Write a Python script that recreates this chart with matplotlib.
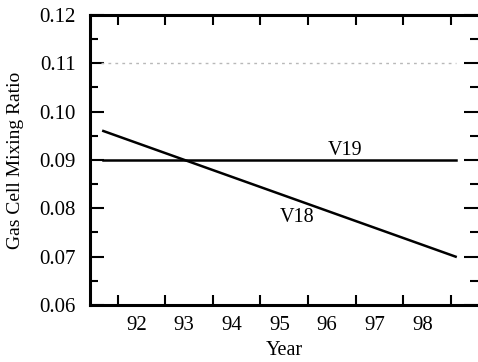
import numpy as np
import matplotlib
matplotlib.use('Agg')
import matplotlib.pyplot as plt
from matplotlib.ticker import MultipleLocator, FixedLocator, NullFormatter

plt.rcParams['font.family'] = ['Liberation Serif', 'DejaVu Serif']

# gas cell mixing ratio vs. year
years = [91.7, 99.1]
v18 = [0.096, 0.070]
v19 = [0.090, 0.090]
nominal = [0.110, 0.110]
year_labels = ['92', '93', '94', '95', '96', '97', '98']
year_ticks = [92, 93, 94, 95, 96, 97, 98, 99]

fig = plt.figure(figsize=(4.78, 3.62), dpi=100)
ax = fig.add_axes([90 / 478, 1 - 305 / 362, 388 / 478, 290 / 362])

ax.plot([91.65, 99.1], nominal, color='#b8b8b8', lw=1.0, ls=(0, (2, 3)))
ax.plot(years, v19, color='black', lw=1.8)
ax.plot(years, v18, color='black', lw=1.8)

ax.text(96.77, 0.0901, 'V19', fontsize=14.5, ha='center', va='bottom')
ax.text(95.76, 0.0782, 'V18', fontsize=14.5, ha='center', va='center')

ax.set_xlim(91.42, 99.57)
ax.set_ylim(0.06, 0.12)

ax.xaxis.set_major_locator(FixedLocator(year_ticks))
ax.xaxis.set_major_formatter(NullFormatter())
ax.xaxis.set_minor_locator(FixedLocator([y + 0.4 for y in year_ticks[:-1]]))
ax.set_xticklabels(year_labels, minor=True)
ax.tick_params(axis='x', which='major', direction='in', length=7, width=1.5,
               top=True, bottom=True)
ax.tick_params(axis='x', which='minor', length=0, labelsize=15, pad=8)

ax.yaxis.set_major_locator(MultipleLocator(0.01))
ax.yaxis.set_minor_locator(MultipleLocator(0.005))
ax.yaxis.set_major_formatter(plt.FuncFormatter(lambda v, p: f'{v:.2f}'))
ax.tick_params(axis='y', which='major', direction='in', length=10, width=1.5,
               left=True, right=True, labelsize=15, pad=10)
ax.tick_params(axis='y', which='minor', direction='in', length=6, width=1.5,
               left=True, right=True)

for side in ['left', 'bottom', 'top']:
    ax.spines[side].set_linewidth(2.2)
ax.spines['right'].set_visible(False)

ax.set_xlabel('Year', fontsize=14.5, labelpad=4)
ax.set_ylabel('Gas Cell Mixing Ratio', fontsize=14, labelpad=11)

fig.savefig('out.png', dpi=100)
